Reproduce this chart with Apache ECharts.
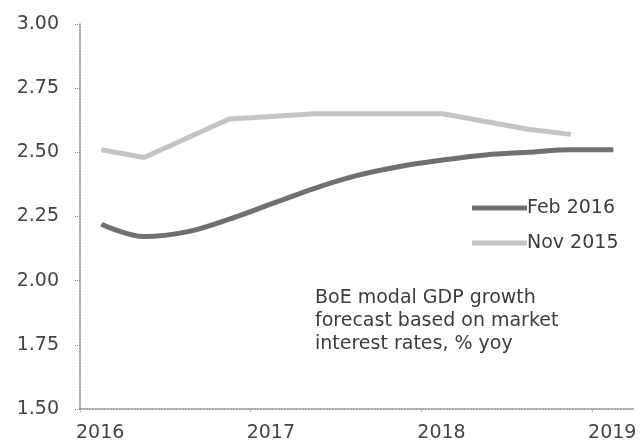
<!DOCTYPE html>
<html>
<head>
<meta charset="utf-8">
<script src="https://cdn.jsdelivr.net/npm/echarts@6/dist/echarts.min.js"></script>
<style>
  html, body { margin: 0; padding: 0; background: #fff; }
  #chart { width: 640px; height: 445px; }
</style>
</head>
<body>
<div id="chart"></div>
<script>
// mid-quarter positions, Q1 2016 .. Q1 2019
var quarters = [2016.125, 2016.375, 2016.625, 2016.875, 2017.125, 2017.375, 2017.625,
  2017.875, 2018.125, 2018.375, 2018.625, 2018.875, 2019.125];
var feb2016 = [2.22, 2.172, 2.19, 2.24, 2.30, 2.36, 2.41, 2.445, 2.47, 2.49, 2.50, 2.51, 2.51];
var nov2015 = [2.51, 2.48, 2.555, 2.63, 2.64, 2.65, 2.65, 2.65, 2.65, 2.62, 2.59, 2.57];
var yearTicks = [2016, 2017, 2018, 2019];
var seriesNames = ['Feb 2016', 'Nov 2015'];
var note = 'BoE modal GDP growth\nforecast based on market\ninterest rates, % yoy';

var font = 'DejaVu Sans';
var pairs = function (xs, ys) {
  return ys.map(function (v, i) { return [xs[i], v]; });
};

var chart = echarts.init(document.getElementById('chart'));
chart.setOption({
  animation: false,
  backgroundColor: '#fff',
  grid: { left: 80, right: 7, top: 24, bottom: 36 },
  legend: {
    orient: 'vertical',
    left: 467,
    top: 193,
    icon: 'rect',
    itemWidth: 55,
    itemHeight: 5,
    itemGap: 15,
    textStyle: { fontFamily: font, fontSize: 19, color: '#3c3c3c', lineHeight: 20, padding: [0, 0, 0, -5] },
    data: seriesNames
  },
  xAxis: {
    type: 'value',
    min: 2016,
    max: 2019.24,
    interval: 1,
    splitLine: { show: false },
    axisLine: { lineStyle: { color: '#888', type: 'dotted', width: 1.5 } },
    axisTick: { length: 4, customValues: yearTicks, lineStyle: { color: '#888', type: 'dotted' } },
    axisLabel: {
      customValues: yearTicks,
      align: 'left',
      margin: 15,
      padding: [0, 0, 0, -4],
      fontFamily: font,
      fontSize: 19,
      color: '#444',
      formatter: function (v) { return String(Math.round(v)); }
    }
  },
  yAxis: {
    type: 'value',
    min: 1.5,
    max: 3,
    interval: 0.25,
    splitLine: { show: false },
    axisLine: { show: true, lineStyle: { color: '#888', type: 'dotted', width: 1.5 } },
    axisTick: { show: true, length: 6, lineStyle: { color: '#888', type: 'dotted' } },
    axisLabel: {
      margin: 21,
      fontFamily: font,
      fontSize: 19,
      color: '#444',
      formatter: function (v) { return v.toFixed(2); }
    }
  },
  series: [{
    name: seriesNames[0],
    type: 'line',
    data: pairs(quarters, feb2016),
    symbol: 'none',
    smooth: 0.35,
    color: '#707070',
    lineStyle: { width: 5, color: '#707070' },
    z: 3
  }, {
    name: seriesNames[1],
    type: 'line',
    data: pairs(quarters, nov2015),
    symbol: 'none',
    color: '#c4c4c4',
    lineStyle: { width: 5, color: '#c4c4c4' },
    z: 2
  }],
  graphic: [{
    type: 'text',
    left: 315,
    top: 287,
    style: {
      text: note,
      fontFamily: font,
      fontSize: 19,
      lineHeight: 23,
      fill: '#3c3c3c'
    }
  }]
});
</script>
</body>
</html>
